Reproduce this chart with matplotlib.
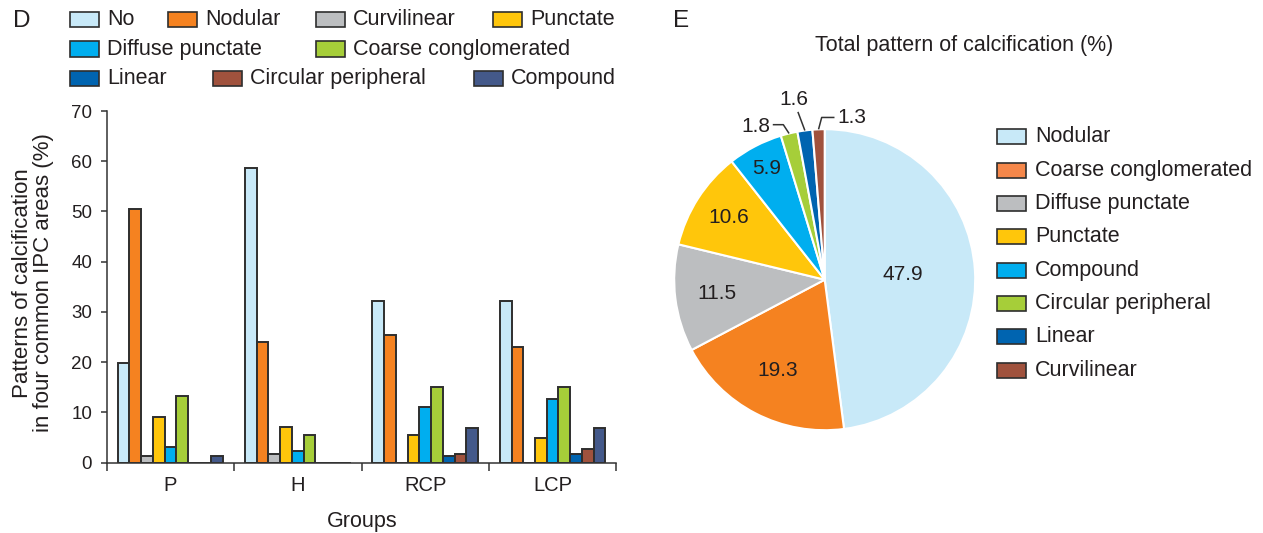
import matplotlib
matplotlib.use("Agg")
import matplotlib.pyplot as plt
from matplotlib.patches import Rectangle
import numpy as np

plt.rcParams['font.family'] = ['Liberation Sans', 'DejaVu Sans']

# ---------------- data ----------------
groups = ['P', 'H', 'RCP', 'LCP']
categories = ['No', 'Nodular', 'Curvilinear', 'Punctate', 'Diffuse punctate',
              'Coarse conglomerated', 'Linear', 'Circular peripheral', 'Compound']
no_vals = [19.8, 58.7, 32.2, 32.2]
nodular_vals = [50.4, 24.0, 25.3, 23.0]
curvilinear_vals = [1.3, 1.7, 0.0, 0.0]
punctate_vals = [9.1, 7.1, 5.5, 4.9]
diffuse_vals = [3.0, 2.3, 11.1, 12.7]
coarse_vals = [13.3, 5.5, 15.1, 15.1]
linear_vals = [0.0, 0.0, 1.3, 1.7]
circular_vals = [0.0, 0.0, 1.7, 2.6]
compound_vals = [1.3, 0.0, 6.8, 6.8]
series = [no_vals, nodular_vals, curvilinear_vals, punctate_vals, diffuse_vals,
          coarse_vals, linear_vals, circular_vals, compound_vals]
bar_colors = ['#C8E9F8', '#F58220', '#BCBEC0', '#FFC60B', '#00AEEF',
              '#A6CE39', '#0064B0', '#A0523D', '#44598A']

pie_labels = ['Nodular', 'Coarse conglomerated', 'Diffuse punctate', 'Punctate',
              'Compound', 'Circular peripheral', 'Linear', 'Curvilinear']
pie_values = [47.9, 19.3, 11.5, 10.6, 5.9, 1.8, 1.6, 1.3]
pie_colors = ['#C8E9F8', '#F58220', '#BCBEC0', '#FFC60B', '#00AEEF',
              '#A6CE39', '#0064B0', '#A0523D']
pie_legend_colors = ['#C8E9F8', '#F5874A', '#BCBEC0', '#FFC60B', '#00AEEF',
                     '#A6CE39', '#0064B0', '#A0523D']

TXT = '#231F20'
W, H = 1263, 533
fig = plt.figure(figsize=(W / 100, H / 100), dpi=100)


def fx(x):
    return x / W


def fy(y):
    return 1 - y / H


# ---------------- bar chart ----------------
axL = fig.add_axes([fx(106.7), fy(462.5), fx(616.3) - fx(106.7), fy(111) - fy(462.5)])
n = len(categories)
bw = 0.092
centers = np.arange(len(groups)) + 0.5
for k, (vals, col) in enumerate(zip(series, bar_colors)):
    axL.bar(centers + (k - (n - 1) / 2) * bw, vals, width=bw, color=col,
            edgecolor='#2E2E2E', linewidth=1.4, zorder=2)
axL.set_xlim(0, 4)
axL.set_ylim(0, 70)
axL.set_yticks(np.arange(0, 71, 10))
axL.set_xticks([0, 1, 2, 3, 4])
axL.set_xticklabels([])
axL.set_xticks(centers, minor=True)
axL.set_xticklabels(groups, minor=True, fontsize=14.5, color=TXT)
axL.tick_params(axis='x', which='major', length=6, width=1.1, color='#333333', direction='out')
axL.tick_params(axis='x', which='minor', length=0, pad=10)
axL.tick_params(axis='y', length=4.5, width=1.1, color='#333333', labelsize=13.5,
                labelcolor=TXT, pad=6)
for s in ['top', 'right']:
    axL.spines[s].set_visible(False)
for s in ['left', 'bottom']:
    axL.spines[s].set_linewidth(1.1)
    axL.spines[s].set_color('#333333')
    axL.spines[s].set_zorder(3)

fig.text(fx(33), fy(283), 'Patterns of calcification\nin four common IPC areas (%)',
         rotation=90, ha='center', va='center', multialignment='center',
         fontsize=16, color=TXT, linespacing=1.0)
fig.text(fx(362), fy(527), 'Groups', ha='center', va='baseline', fontsize=15.5, color=TXT)
fig.text(fx(22), fy(21), 'D', ha='center', va='center', fontsize=17.5, color=TXT)

# left legend (manual layout)
leg_pos = [(70, 19.5), (168, 19.5), (316, 19.5), (493, 19.5),
           (70, 49), (316, 49),
           (70, 78.5), (213, 78.5), (474, 78.5)]
for (x0, yc), lab, col in zip(leg_pos, categories, bar_colors):
    fig.patches.append(Rectangle((fx(x0), fy(yc + 7.5)), 29 / W, 15 / H,
                                 transform=fig.transFigure, facecolor=col,
                                 edgecolor='#2E2E2E', linewidth=1.2))
    fig.text(fx(x0 + 37), fy(yc), lab, ha='left', va='center', fontsize=15.5, color=TXT)

# ---------------- pie chart ----------------
cx, cy, R = 824.7, 279.7, 150.5
lim = 1.4
axP = fig.add_axes([fx(cx - lim * R), fy(cy + lim * R), 2 * lim * R / W, 2 * lim * R / H])
wedges, _ = axP.pie(pie_values, colors=pie_colors, startangle=90, counterclock=False,
                    wedgeprops=dict(edgecolor='white', linewidth=1.5))
axP.set_xlim(-lim, lim)
axP.set_ylim(-lim, lim)
axP.set_aspect('equal')
axP.axis('off')

inner_r = [0.52, 0.68, 0.72, 0.76, 0.83]
for w, val, r in zip(wedges[:5], pie_values[:5], inner_r):
    mid = np.deg2rad((w.theta1 + w.theta2) / 2)
    axP.text(r * np.cos(mid), r * np.sin(mid), f'{val}', ha='center', va='center',
             fontsize=15, color=TXT)

# small slices: text position and leader-line elbows (layout)
small_text = [(-0.46, 1.02), (-0.204, 1.196), (0.18, 1.078)]
small_path = [[(-0.345, 1.03), (-0.275, 1.03)],
              [(-0.178, 1.115)],
              [(0.065, 1.078), (-0.02, 1.078)]]
for w, val, tpos, path in zip(wedges[5:], pie_values[5:], small_text, small_path):
    mid = np.deg2rad((w.theta1 + w.theta2) / 2)
    edge = (np.cos(mid) * 1.0, np.sin(mid) * 1.0)
    pts = path + [edge]
    axP.plot([p[0] for p in pts], [p[1] for p in pts], color='#333333', lw=1.1,
             clip_on=False, solid_capstyle='butt')
    axP.text(tpos[0], tpos[1], f'{val}', ha='center', va='center', fontsize=15,
             color=TXT, clip_on=False)

fig.text(fx(964.5), fy(46), 'Total pattern of calcification (%)', ha='center', va='center',
         fontsize=15.5, color=TXT)
fig.text(fx(681), fy(21), 'E', ha='center', va='center', fontsize=17.5, color=TXT)

for k, (lab, col) in enumerate(zip(pie_labels, pie_legend_colors)):
    yc = 136.7 + 33.33 * k
    fig.patches.append(Rectangle((fx(997), fy(yc + 7.5)), 29 / W, 15 / H,
                                 transform=fig.transFigure, facecolor=col,
                                 edgecolor='#2E2E2E', linewidth=1.2))
    fig.text(fx(1035), fy(yc), lab, ha='left', va='center', fontsize=15.5, color=TXT)

fig.savefig('out.png', dpi=100)
